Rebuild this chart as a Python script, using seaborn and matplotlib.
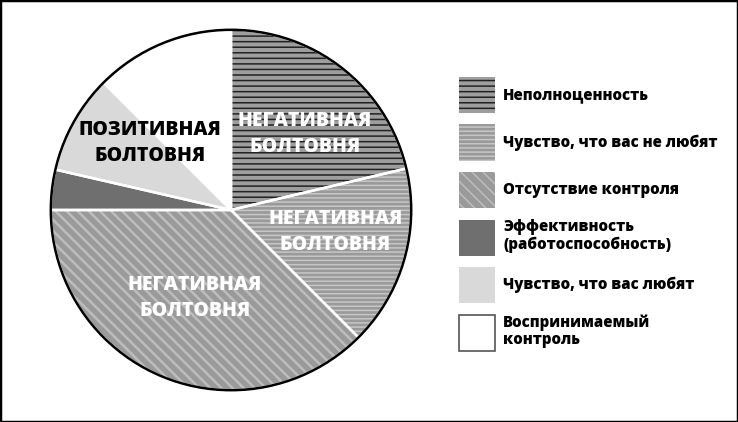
import matplotlib
matplotlib.use("Agg")
import matplotlib.pyplot as plt
from matplotlib.patches import Patch, Rectangle
import seaborn as sns

# доли сегментов (по часовой стрелке от верха)
categories = ["Неполноценность", "Чувство, что вас не любят", "Отсутствие контроля",
              "Эффективность\n(работоспособность)", "Чувство, что вас любят",
              "Воспринимаемый\nконтроль"]
values = [21.3, 16.2, 37.5, 3.6, 8.9, 12.5]
slice_labels = ["НЕГАТИВНАЯ\nБОЛТОВНЯ", "НЕГАТИВНАЯ\nБОЛТОВНЯ", "НЕГАТИВНАЯ\nБОЛТОВНЯ",
                None, None, "ПОЗИТИВНАЯ\nБОЛТОВНЯ"]

sns.set_theme(style="white")
plt.rcParams['font.family'] = ['Open Sans', 'DejaVu Sans']
plt.rcParams['hatch.linewidth'] = 1.1
plt.rcParams['text.color'] = 'black'

face = ["#9e9e9e", "#9a9a9a", "#9a9a9a", "#6f6f6f", "#d9d9d9", "#ffffff"]
hatch_col = ["#222222", "#c6c6c6", "#bdbdbd", "#6f6f6f", "#d9d9d9", "#ffffff"]
hatches = ["---", "----", "\\\\\\", "", "", ""]
hatch_lw = [1.1, 1.1, 1.8, 1.0, 1.0, 1.0]
text_col = ["white", "white", "white", None, None, "black"]
label_pos = [(0.41, 0.42), (0.58, -0.12), (-0.20, -0.49), None, None, (-0.45, 0.37)]

fig = plt.figure(figsize=(7.38, 4.22), dpi=100)
ax = fig.add_axes([49 / 738, 30 / 422, 364 / 738, 364 / 422])

wedges, _ = ax.pie(values, startangle=90, counterclock=False, colors=face,
                   wedgeprops=dict(linewidth=0))
for w, h, hc, hl in zip(wedges, hatches, hatch_col, hatch_lw):
    if h:
        w.set_hatch(h)
        w.set_edgecolor(hc)
        if hasattr(w, "set_hatch_linewidth"):
            w.set_hatch_linewidth(hl)
# белые границы между сегментами
ax.pie(values, startangle=90, counterclock=False, colors=["none"] * 6,
       wedgeprops=dict(linewidth=1.8, edgecolor="white", fill=False))
ax.add_patch(plt.Circle((0, 0), 1.0, fill=False, edgecolor="black", linewidth=1.8))

for lab, pos, tc in zip(slice_labels, label_pos, text_col):
    if lab:
        ax.text(pos[0], pos[1], lab, ha="center", va="center", color=tc,
                fontsize=14, fontweight="heavy", linespacing=1.4)

ax.set_xlim(-1.01, 1.01)
ax.set_ylim(-1.01, 1.01)
ax.set_aspect("equal")
ax.axis("off")

handles = []
for fc, h, hc, hl in zip(face, hatches, hatch_col, hatch_lw):
    if h:
        p = Patch(facecolor=fc, edgecolor=hc, hatch=h, linewidth=0)
        if hasattr(p, "set_hatch_linewidth"):
            p.set_hatch_linewidth(hl)
        handles.append(p)
    elif fc == "#ffffff":
        handles.append(Patch(facecolor=fc, edgecolor="#555555", linewidth=1.2))
    else:
        handles.append(Patch(facecolor=fc, edgecolor=fc, linewidth=0))

fs = 10.8
fs_px = fs * 100 / 72
leg = fig.legend(handles, categories, loc="upper left", bbox_to_anchor=(459 / 738, 1 - 77 / 422),
                 frameon=False, prop=dict(family=['Open Sans', 'DejaVu Sans'], weight="heavy", size=fs),
                 handlelength=36 / fs_px, handleheight=3.35,
                 labelspacing=0.73, handletextpad=0.55, borderaxespad=0, borderpad=0,
                 labelcolor="black")
for t in leg.get_texts():
    t.set_linespacing(1.15)

fig.patches.append(Rectangle((0, 0), 1, 1, transform=fig.transFigure, fill=False,
                             edgecolor="black", linewidth=2.5))
fig.savefig("out.png", dpi=100)
